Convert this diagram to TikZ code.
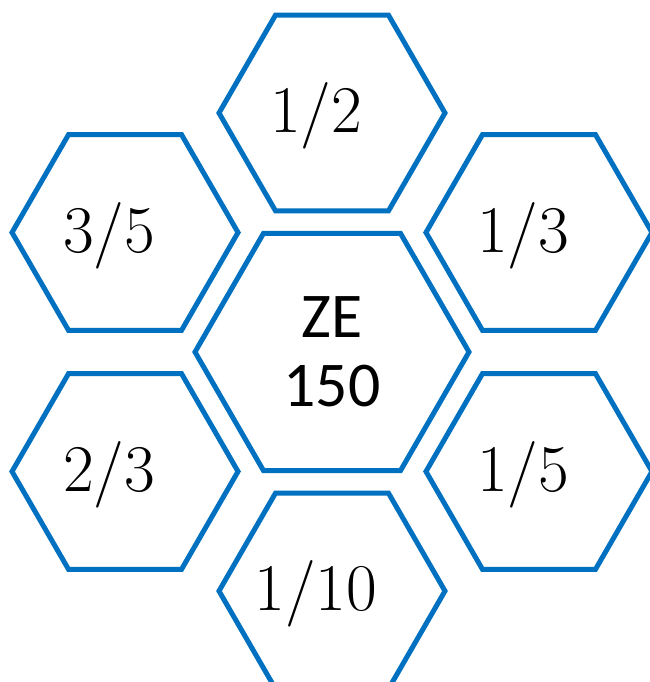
\documentclass[tikz,border=0pt]{standalone}
\usepackage{fontspec}
\setsansfont{Carlito}
\usepackage{tikz}
\usetikzlibrary{shapes.geometric}
\definecolor{blauh}{HTML}{0070C0}

\begin{document}
\begin{tikzpicture}[
    x=1bp, y=1bp,
    wabe/.style={regular polygon, regular polygon sides=6, draw=blauh, line width=5bp, minimum size=226bp, inner sep=0pt},
    mitte/.style={wabe, minimum size=274bp, align=center, font=\sffamily\fontsize{64}{69}\selectfont},
    bruch/.style={font=\fontsize{67}{69}\selectfont, inner sep=0pt}
]
\useasboundingbox (-332,-330) rectangle (318,352);

\node (ze) [mitte] at (0,0) {ZE\\150};

\node (w12) [wabe] at (90:239) {};
\node (w13) [wabe] at (30:239) {};
\node (w15) [wabe] at (-30:239) {};
\node (w110) [wabe] at (-90:239) {};
\node (w23) [wabe] at (-150:239) {};
\node (w35) [wabe] at (150:239) {};

\node (b12) [bruch] at ([xshift=-16bp, yshift=-3bp]w12.center) {1/2};
\node (b13) [bruch] at ([xshift=-16bp, yshift=-3bp]w13.center) {1/3};
\node (b15) [bruch] at ([xshift=-16bp, yshift=-3bp]w15.center) {1/5};
\node (b110) [bruch] at ([xshift=-16bp, yshift=-3bp]w110.center) {1/10};
\node (b23) [bruch] at ([xshift=-16bp, yshift=-3bp]w23.center) {2/3};
\node (b35) [bruch] at ([xshift=-16bp, yshift=-3bp]w35.center) {3/5};

\end{tikzpicture}
\end{document}
